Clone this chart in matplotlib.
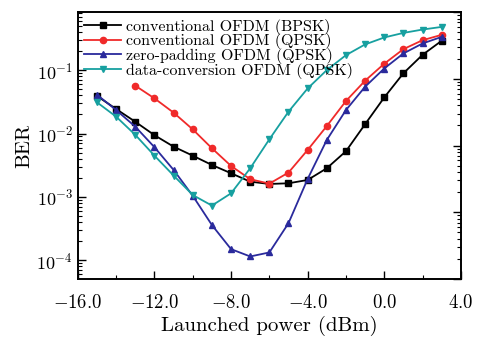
#!/usr/bin/env python3

import matplotlib
matplotlib.use("Agg")
import matplotlib.pyplot as plt
import numpy as np
from matplotlib.ticker import LogLocator, MultipleLocator, FuncFormatter, NullFormatter

plt.rcParams['font.family'] = 'serif'
plt.rcParams['font.serif'] = ['cmr10', 'DejaVu Serif']
plt.rcParams['mathtext.fontset'] = 'cm'
plt.rcParams['axes.formatter.use_mathtext'] = True

# Data
power = [-15, -14, -13, -12, -11, -10, -9, -8, -7, -6, -5, -4, -3, -2, -1, 0, 1, 2, 3]
power_red = power[2:]

ber_bpsk = [3.9e-2, 2.43e-2, 1.53e-2, 9.4e-3, 6.2e-3, 4.47e-3, 3.19e-3, 2.36e-3, 1.74e-3, 1.6e-3,
            1.64e-3, 1.85e-3, 2.83e-3, 5.25e-3, 1.4e-2, 3.7e-2, 8.9e-2, 0.174, 0.29]
ber_qpsk = [5.67e-2, 3.58e-2, 2.13e-2, 1.16e-2, 5.85e-3, 3.08e-3, 1.9e-3, 1.62e-3,
            2.42e-3, 5.5e-3, 1.31e-2, 3.25e-2, 6.8e-2, 0.126, 0.214, 0.296, 0.36]
ber_zp = [4.08e-2, 2.34e-2, 1.28e-2, 6.07e-3, 2.66e-3, 1.04e-3, 3.6e-4, 1.5e-4, 1.15e-4, 1.33e-4,
          3.85e-4, 1.92e-3, 7.9e-3, 2.34e-2, 5.46e-2, 0.106, 0.183, 0.263, 0.334]
ber_dc = [3.1e-2, 1.84e-2, 9.5e-3, 4.47e-3, 2.17e-3, 1.07e-3, 7.3e-4, 1.14e-3, 2.83e-3, 8.1e-3,
          2.21e-2, 5.14e-2, 0.1, 0.172, 0.254, 0.327, 0.386, 0.436, 0.48]

labels = ["conventional OFDM (BPSK)", "conventional OFDM (QPSK)",
          "zero-padding OFDM (QPSK)", "data-conversion OFDM (QPSK)"]

fig = plt.figure(figsize=(4.78, 3.38), dpi=100)
ax = fig.add_axes([0.163, 0.175, 0.801, 0.789])

ax.plot(power, ber_bpsk, color='black', marker='s', ms=4.5, lw=1.3, label=labels[0])
ax.plot(power_red, ber_qpsk, color='#f02a2a', marker='o', ms=4.5, lw=1.3, label=labels[1])
ax.plot(power, ber_zp, color='#2a2a9c', marker='^', ms=5, lw=1.3, label=labels[2])
ax.plot(power, ber_dc, color='#17a0a0', marker='v', ms=5, lw=1.3, label=labels[3])

ax.set_yscale('log')
ax.set_ylim(5.1e-5, 0.82)
ax.set_xlim(-16, 4)
ax.xaxis.set_major_locator(MultipleLocator(4))
ax.xaxis.set_minor_locator(MultipleLocator(2))
ax.xaxis.set_major_formatter(FuncFormatter(lambda v, p: r'$%.1f$' % v))
ax.yaxis.set_major_locator(LogLocator(base=10, numticks=10))
ax.yaxis.set_minor_locator(LogLocator(base=10, subs=np.arange(2, 10), numticks=10))
ax.yaxis.set_minor_formatter(NullFormatter())
ax.tick_params(which='both', direction='in', labelsize=13, right=False, top=False)
ax.tick_params(which='major', length=6, width=1)
ax.tick_params(which='minor', length=3, width=0.8)
ax.tick_params(axis='x', which='major', labelsize=13.5, pad=11)

# right axis in the reference has its own (offset) log ticks
ax2 = ax.twinx()
ax2.set_yscale('log')
ax2.set_ylim(1e-4, 1)
ax2.yaxis.set_minor_locator(LogLocator(base=10, subs=np.arange(2, 10), numticks=10))
ax2.tick_params(which='both', direction='in', labelright=False)
ax2.tick_params(which='major', length=6, width=1)
ax2.tick_params(which='minor', length=3, width=0.8)
ax2.yaxis.set_minor_formatter(NullFormatter())

for a in (ax, ax2):
    for s in a.spines.values():
        s.set_linewidth(1.2)

ax.set_xlabel("Launched power (dBm)", fontsize=15, labelpad=3)
ax.set_ylabel("BER", fontsize=15, labelpad=2)

ax.legend(loc='upper left', frameon=False, fontsize=11.5, handlelength=2.3,
          handletextpad=0.3, labelspacing=-0.08, borderaxespad=0.1, borderpad=0.3)

fig.savefig("out.png", dpi=100)
